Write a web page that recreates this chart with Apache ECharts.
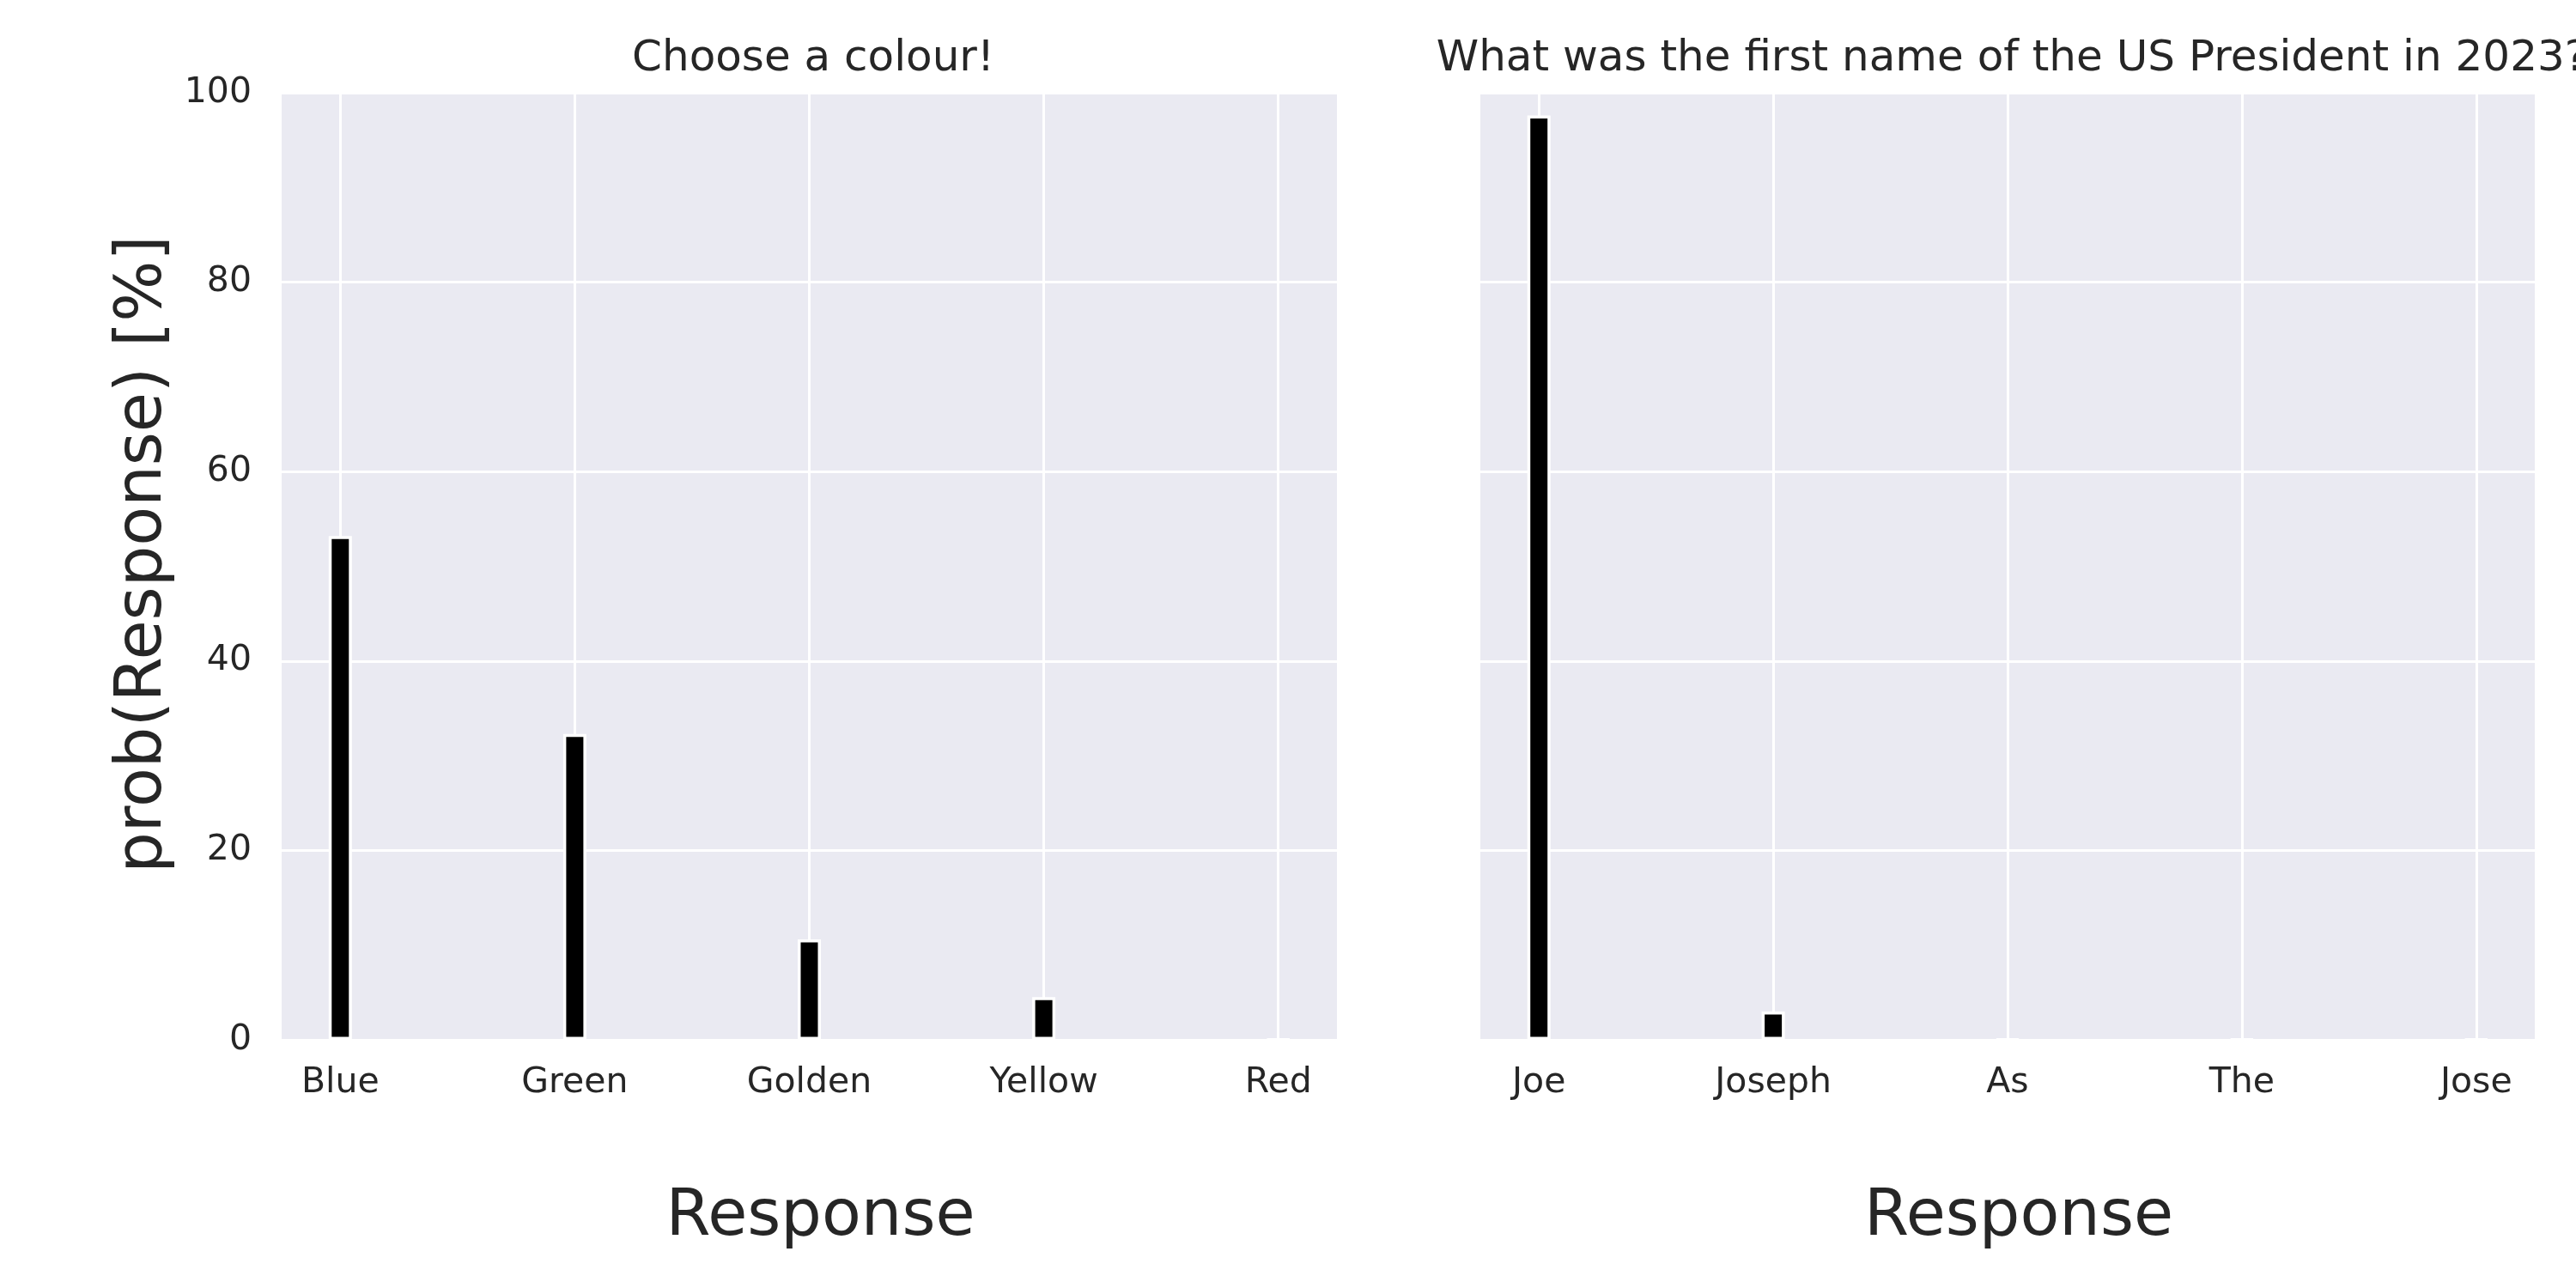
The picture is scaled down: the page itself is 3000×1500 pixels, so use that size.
<!DOCTYPE html>
<html>
<head>
<meta charset="utf-8">
<script src="https://cdn.jsdelivr.net/npm/echarts@6/dist/echarts.min.js"></script>
<style>
  html, body { margin: 0; padding: 0; background: #fff; }
  #chart { width: 3000px; height: 1500px; }
</style>
</head>
<body>
<div id="chart"></div>
<script>
// left panel: "Choose a colour!"
var colourCats = ['Blue', 'Green', 'Golden', 'Yellow', 'Red'];
var colourVals = [53.2, 32.3, 10.6, 4.5, 0.05];
// right panel: US president question
var nameCats = ['Joe', 'Joseph', 'As', 'The', 'Jose'];
var nameVals = [97.6, 3.0, 0.05, 0.05, 0.05];
var yTicks = [0, 20, 40, 60, 80, 100];
var catPos = [0, 1, 2, 3, 4];

var textColor = '#262626';
var font = 'DejaVu Sans';

function xAxisFor(idx, cats) {
    return {
        type: 'value',
        gridIndex: idx,
        min: -0.25,
        max: 4.25,
        name: 'Response',
        nameLocation: 'middle',
        nameGap: 170,
        nameTextStyle: { fontSize: 75, color: textColor, fontFamily: font, padding: [0, 0, 0, 26] },
        axisLine: { show: false },
        axisTick: { show: false, customValues: catPos },
        axisLabel: {
            customValues: catPos,
            fontSize: 41,
            color: textColor,
            fontFamily: font,
            margin: 30,
            formatter: function (v) { return cats[Math.round(v)]; }
        },
        splitLine: { show: true, lineStyle: { color: '#fff', width: 3 } }
    };
}

function yAxisFor(idx, showLabels) {
    return {
        type: 'value',
        gridIndex: idx,
        min: yTicks[0],
        max: yTicks[yTicks.length - 1],
        interval: 20,
        name: showLabels ? 'prob(Response) [%]' : '',
        nameLocation: 'middle',
        nameGap: 123,
        nameTextStyle: { fontSize: 75, color: textColor, fontFamily: font, padding: [0, 0, 0, 28] },
        axisLine: { show: false },
        axisTick: { show: false },
        axisLabel: {
            show: showLabels,
            fontSize: 41,
            color: textColor,
            fontFamily: font,
            margin: 35
        },
        splitLine: { show: true, lineStyle: { color: '#fff', width: 3 } }
    };
}

function barSeries(idx, vals) {
    return {
        type: 'bar',
        xAxisIndex: idx,
        yAxisIndex: idx,
        barWidth: 27,
        data: vals.map(function (v, i) { return [catPos[i], v]; }),
        itemStyle: { color: '#000', borderColor: '#fff', borderWidth: 3.5 },
        silent: true
    };
}

var chart = echarts.init(document.getElementById('chart'), null, { renderer: 'canvas' });
var option = {
    backgroundColor: '#fff',
    animation: false,
    title: [
        {
            text: 'Choose a colour!',
            left: 942, top: 39, textAlign: 'center',
            textStyle: { fontSize: 50, fontWeight: 'normal', color: textColor, fontFamily: font }
        },
        {
            text: 'What was the first name of the US President in 2023?',
            left: 2338, top: 39, textAlign: 'center',
            textStyle: { fontSize: 50, fontWeight: 'normal', color: textColor, fontFamily: font }
        }
    ],
    grid: [
        { left: 328, top: 108, width: 1229, height: 1103, show: true, backgroundColor: '#EAEAF2', borderWidth: 0 },
        { left: 1724, top: 108, width: 1228, height: 1103, show: true, backgroundColor: '#EAEAF2', borderWidth: 0 }
    ],
    xAxis: [xAxisFor(0, colourCats), xAxisFor(1, nameCats)],
    yAxis: [yAxisFor(0, true), yAxisFor(1, false)],
    series: [barSeries(0, colourVals), barSeries(1, nameVals)]
};
chart.setOption(option);
</script>
</body>
</html>
